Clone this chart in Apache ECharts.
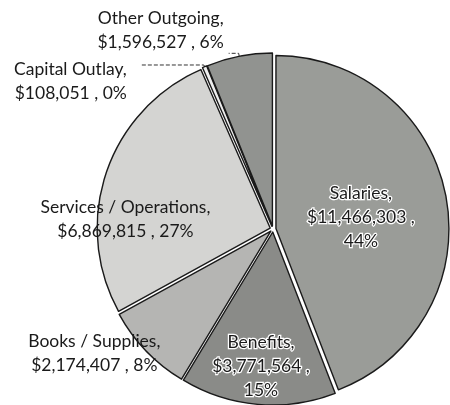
<!DOCTYPE html>
<html><head><meta charset="utf-8">
<script src="https://cdn.jsdelivr.net/npm/echarts@6/dist/echarts.min.js"></script>
<style>html,body{margin:0;padding:0;background:#fff}#c{width:450px;height:405px}</style>
</head><body><div id="c"></div>
<script>
// ---- data ----
const categories = ['Salaries', 'Benefits', 'Books / Supplies', 'Services / Operations', 'Capital Outlay', 'Other Outgoing'];
const amounts = [11466303, 3771564, 2174407, 6869815, 108051, 1596527];

// ---- styles ----
const sliceColors = ['#9a9c98', '#8a8b88', '#b5b5b3', '#d4d4d2', '#eeeeee', '#919390'];
const haloText = { textBorderColor: '#fff', textBorderWidth: 2.5 };
const labelCfg = [
  Object.assign({ position: 'inside', threeLine: true }, haloText),
  Object.assign({ position: 'inside', threeLine: true }, haloText),
  { position: 'inside' },
  { position: 'inside' },
  { position: 'outside' },
  { position: 'outside' }
];
const lineCfg = [
  { show: false }, { show: false }, { show: false }, { show: false },
  { show: true, length: 2, length2: 62, lineStyle: { type: 'dashed', color: '#333', width: 1 } },
  { show: true, length: 3, length2: 10, lineStyle: { type: 'dashed', color: '#333', width: 1 } }
];
const labelShift = [[-3, 5], [-4, 45], [-112, 60], [-60, 20], [-10, 16], [0, -23]];

const fmtMoney = v => '$' + v.toLocaleString('en-US');

const data = categories.map((name, i) => ({
  name: name,
  value: amounts[i],
  selected: true,
  itemStyle: { color: sliceColors[i] },
  label: (function () {
    const c = Object.assign({}, labelCfg[i]);
    const three = c.threeLine; delete c.threeLine;
    c.formatter = p => three
      ? p.name + ',\n' + fmtMoney(p.value) + ' ,\n' + p.percent + '%'
      : p.name + ',\n' + fmtMoney(p.value) + ' , ' + p.percent + '%';
    return c;
  })(),
  labelLine: lineCfg[i]
}));

const chart = echarts.init(document.getElementById('c'), null, { renderer: 'canvas' });
chart.setOption({
  backgroundColor: '#fff',
  animation: false,
  series: [{
    type: 'pie',
    center: [273, 229],
    radius: 173,
    startAngle: 90,
    clockwise: true,
    percentPrecision: 0,
    selectedMode: 'multiple',
    selectedOffset: 3,
    avoidLabelOverlap: false,
    itemStyle: { borderColor: '#1a1a1a', borderWidth: 1.4 },
    select: { itemStyle: { borderColor: '#1a1a1a', borderWidth: 1.4 } },
    emphasis: { disabled: true },
    label: {
      fontFamily: 'Lato',
      fontSize: 17.5,
      lineHeight: 24,
      color: '#1a1a1a'
    },
    labelLayout: function (p) {
      const s = labelShift[p.dataIndex];
      return { dx: s[0], dy: s[1] };
    },
    data: data
  }]
});
</script>
</body></html>
